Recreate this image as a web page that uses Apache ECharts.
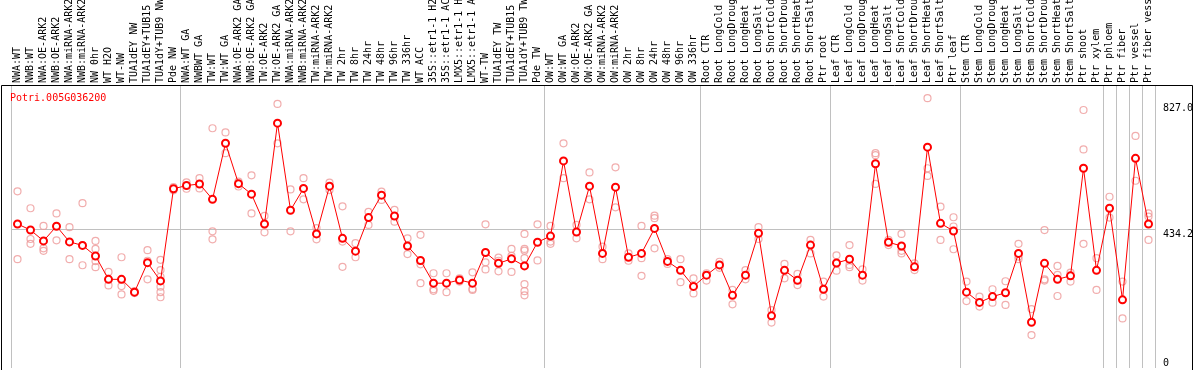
<!DOCTYPE html>
<html>
<head>
<meta charset="utf-8">
<script src="https://cdn.jsdelivr.net/npm/echarts@6/dist/echarts.min.js"></script>
<style>
  html, body { margin: 0; padding: 0; background: #fff; }
  #chart { width: 1194px; height: 370px; }
</style>
</head>
<body>
<div id="chart"></div>
<script>
// sample labels (truncated as in the source plot)
var samples = [
  'NWA:WT', 'NWB:WT', 'NWA:OE-ARK2', 'NWB:OE-ARK2', 'NWA:miRNA-ARK2', 'NWB:miRNA-ARK2',
  'NW 0hr', 'WT H2O', 'WT-NW', 'TUA1dEY NW', 'TUA1dEY+TUB15', 'TUA1dY+TUB9 NW', 'Pde NW',
  'NWA:WT GA', 'NWBWT GA', 'TW:WT', 'TW:WT GA', 'NWA:OE-ARK2 GA', 'NWB:OE-ARK2 GA',
  'TW:OE-ARK2', 'TW:OE-ARK2 GA', 'NWA:miRNA-ARK2', 'NWB:miRNA-ARK2', 'TW:miRNA-ARK2',
  'TW:miRNA-ARK2', 'TW 2hr', 'TW 8hr', 'TW 24hr', 'TW 48hr', 'TW 96hr', 'TW 336hr',
  'WT ACC', '35S::etr1-1 H2', '35S::etr1-1 AC', 'LMX5::etr1-1 H', 'LMX5::etr1-1 A',
  'WT-TW', 'TUA1dEY TW', 'TUA1dEY+TUB15', 'TUA1dY+TUB9 TW', 'Pde TW',
  'OW:WT', 'OW:WT GA', 'OW:OE-ARK2', 'OW:OE-ARK2 GA', 'OW:miRNA-ARK2', 'OW:miRNA-ARK2',
  'OW 2hr', 'OW 8hr', 'OW 24hr', 'OW 48hr', 'OW 96hr', 'OW 336hr',
  'Root CTR', 'Root LongCold', 'Root LongDroug', 'Root LongHeat', 'Root LongSalt',
  'Root ShortCold', 'Root ShortDrou', 'Root ShortHeat', 'Root ShortSalt', 'Ptr root',
  'Leaf CTR', 'Leaf LongCold', 'Leaf LongDroug', 'Leaf LongHeat', 'Leaf LongSalt',
  'Leaf ShortCold', 'Leaf ShortDrou', 'Leaf ShortHeat', 'Leaf ShortSalt', 'Ptr leaf',
  'Stem CTR', 'Stem LongCold', 'Stem LongDroug', 'Stem LongHeat', 'Stem LongSalt',
  'Stem ShortCold', 'Stem ShortDrou', 'Stem ShortHeat', 'Stem ShortSalt', 'Ptr shoot',
  'Ptr xylem', 'Ptr phloem', 'Ptr fiber', 'Ptr vessel', 'Ptr fiber vess'
];

// mean expression per sample
var means = [
  450, 431, 397, 443, 394, 383, 350, 277, 277, 237, 329, 272, 560,
  570, 575, 527, 702, 576, 543, 450, 765, 493, 561, 419, 568, 405, 365, 470, 540, 475,
  381, 336, 265, 265, 275, 265, 361, 327, 341, 319, 393,
  412, 647, 425, 568, 358, 565, 346, 358, 436, 333, 305, 255,
  290, 322, 227, 290, 421, 163, 305, 274, 384, 246,
  328, 340, 290, 638, 393, 381, 316, 690, 452, 428,
  237, 205, 223, 235, 358, 143, 327, 277, 288, 624, 305, 499, 213, 655, 450
];

// individual replicates per sample
var replicates = [
  [552, 340], [499, 403, 388], [444, 374, 366], [483, 399], [440, 340], [515, 321, 383],
  [397, 372, 334, 315], [300, 258], [346, 256, 230], [240, 234], [368, 335, 277],
  [338, 306, 285, 254, 237, 221], [555, 565],
  [560, 580], [593, 561], [749, 427, 402], [736, 671], [582, 567], [602, 483], [475, 424],
  [825, 702], [558, 427], [593, 527], [402, 437], [579, 556], [505, 395, 316], [390, 346],
  [488, 447], [551, 525], [494, 457], [405, 356], [416, 324, 265], [296, 246, 241],
  [296, 237], [280, 270], [299, 247, 244], [449, 330, 308], [345, 335, 302], [372, 300, 350],
  [419, 372, 367, 343, 262, 240, 227], [449, 336],
  [444, 395, 388], [702, 593], [447, 405], [611, 527], [379, 340], [627, 502], [358, 335],
  [444, 343, 288], [476, 468, 374], [340, 325], [340, 268], [280, 233],
  [296, 273], [332, 313], [244, 199], [306, 277], [440, 403], [181, 142], [325, 280],
  [294, 259], [400, 358], [270, 223],
  [352, 304], [384, 315, 322], [308, 273], [671, 665, 575], [400, 384], [419, 366, 358],
  [327, 306], [843, 624, 600], [504, 400], [471, 442, 371],
  [270, 209], [223, 192], [246, 204], [271, 197], [388, 348, 340], [184, 103],
  [431, 277, 273], [319, 291, 225], [298, 270], [806, 683, 388], [343, 244], [535, 470],
  [270, 155], [725, 585], [483, 473, 400]
];

// first sample of each tissue / experiment block
var groupStarts = [0, 13, 41, 53, 63, 73, 84, 85, 86, 87];

var yTicks = [0, 434.2, 827];
var refLevel = 434.2;

var repPoints = [];
for (var i = 0; i < replicates.length; i++) {
  for (var j = 0; j < replicates[i].length; j++) {
    repPoints.push([i, replicates[i][j]]);
  }
}

var mono = 'DejaVu Sans Mono';
var myChart = echarts.init(document.getElementById('chart'));
var option = {
  animation: false,
  backgroundColor: '#fff',
  title: {
    text: 'Potri.005G036200',
    left: 10,
    top: 93,
    padding: 0,
    textStyle: { color: '#ff0000', fontSize: 10, fontWeight: 'normal', fontFamily: mono }
  },
  grid: { left: 11, right: 39, top: 86, bottom: 2, containLabel: false, outerBoundsMode: 'none' },
  xAxis: {
    type: 'category',
    position: 'top',
    data: samples,
    boundaryGap: true,
    axisLine: { show: false },
    axisTick: { show: false },
    axisLabel: {
      interval: 0,
      rotate: 90,
      margin: 3,
      fontSize: 10,
      fontFamily: mono,
      color: '#000'
    },
    splitLine: {
      show: true,
      interval: function (index) { return groupStarts.indexOf(index) >= 0; },
      lineStyle: { color: '#c0c0c0', width: 1 }
    }
  },
  yAxis: {
    type: 'value',
    position: 'right',
    min: 0,
    max: 881,
    axisLine: { show: false },
    axisTick: { show: false },
    splitLine: { show: false },
    axisLabel: {
      customValues: yTicks,
      margin: 8,
      fontSize: 10,
      fontFamily: mono,
      color: '#000',
      verticalAlign: 'top',
      verticalAlignMinLabel: 'bottom',
      formatter: function (v) { return v === 0 ? '0' : v.toFixed(1); }
    }
  },
  graphic: [{
    type: 'rect',
    silent: true,
    shape: { x: 1.5, y: 85.5, width: 1191, height: 300 },
    style: { fill: 'none', stroke: '#000', lineWidth: 1 }
  }],
  series: [
    {
      name: 'replicates',
      type: 'scatter',
      data: repPoints,
      symbol: 'circle',
      symbolSize: 7,
      itemStyle: { color: 'rgba(0,0,0,0)', borderColor: '#ee9999', borderWidth: 1.2 },
      z: 2
    },
    {
      name: 'mean',
      type: 'line',
      data: means,
      symbol: 'emptyCircle',
      symbolSize: 7,
      lineStyle: { color: '#ff0000', width: 1 },
      itemStyle: { color: '#ff0000', borderColor: '#ff0000', borderWidth: 1.5 },
      z: 3,
      markLine: {
        silent: true,
        symbol: 'none',
        label: { show: false },
        lineStyle: { color: '#c0c0c0', width: 1, type: 'solid' },
        data: [{ yAxis: refLevel }],
        z: 1
      }
    }
  ]
};
myChart.setOption(option);
window.addEventListener('resize', function () {
  myChart.resize();
});
</script>
</body>
</html>
